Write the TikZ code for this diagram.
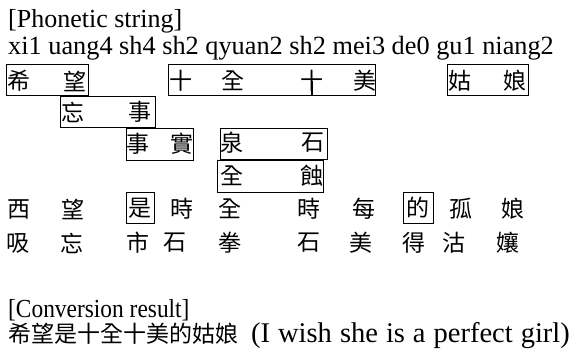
\documentclass[tikz,border=0pt]{standalone}
\usepackage{fontspec}
\setmainfont{Liberation Serif}
\newfontfamily\cjk{Noto Sans CJK TC}
\begin{document}
\begin{tikzpicture}[x=1pt,y=-1pt]
\tikzset{
  lat/.style={anchor=base west, inner sep=0pt, font=\fontsize{26}{26}\selectfont},
  hz/.style={inner sep=0pt, font=\cjk\fontsize{23}{23}\selectfont},
  bx/.style={draw, line width=1.3pt, inner sep=0pt, anchor=north west},
}
\fill[white] (0,0) rectangle (576,352);
\useasboundingbox (0,0) rectangle (576,352);
% headings
\node[lat] (title) at (8,28) {[Phonetic string]};
\node[lat, font=\fontsize{26.3}{26.3}\selectfont] (phon) at (8,55) {xi1 uang4 sh4 sh2 qyuan2 sh2 mei3 de0 gu1 niang2};
% boxes
\node[bx, minimum width=82pt, minimum height=31pt] (b1) at (6,64) {};
\node[bx, minimum width=207pt, minimum height=31pt] (b2) at (168,64) {};
\node[bx, minimum width=81pt, minimum height=31pt] (b3) at (447,64) {};
\node[bx, minimum width=95pt, minimum height=31pt] (b4) at (60,96) {};
\node[bx, minimum width=67pt, minimum height=32pt] (b5) at (126,128) {};
\node[bx, minimum width=107pt, minimum height=31pt] (b6) at (220,128) {};
\node[bx, minimum width=106pt, minimum height=32pt] (b7) at (217,160) {};
\node[bx, minimum width=28pt, minimum height=31pt] (b8) at (126,192) {};
\node[bx, minimum width=30pt, minimum height=31pt] (b9) at (403,192) {};
% row 1
\node[hz] (r1a) at (19,81) {希};
\node[hz] (r1b) at (75,81) {望};
\node[hz] (r1c) at (181,81) {十};
\node[hz] (r1d) at (233,81) {全};
\node[hz] (r1e) at (312,81) {十};
\node[hz] (r1f) at (365,81) {美};
\node[hz] (r1g) at (460,81) {姑};
\node[hz] (r1h) at (515,81) {娘};
\draw[line width=1.3pt] (r1e.center) -- (r1e.center |- b2.south);
% row 2
\node[hz] (r2a) at (73,112) {忘};
\node[hz] (r2b) at (140,112) {事};
% row 3
\node[hz] (r3a) at (138,144) {事};
\node[hz] (r3b) at (182,144) {實};
\node[hz] (r3c) at (232,143) {泉};
\node[hz] (r3d) at (313,143) {石};
% row 4
\node[hz] (r4a) at (232,176) {全};
\node[hz] (r4b) at (312,176) {蝕};
% row 5
\node[hz] (r5a) at (19,209) {西};
\node[hz] (r5b) at (73,209) {望};
\node[hz] (r5c) at (140,208) {是};
\node[hz] (r5d) at (182,209) {時};
\node[hz] (r5e) at (230,209) {全};
\node[hz] (r5f) at (309,209) {時};
\node[hz] (r5g) at (364,209) {每};
\node[hz] (r5h) at (418,208) {的};
\node[hz] (r5i) at (461,209) {孤};
\node[hz] (r5j) at (513,209) {娘};
% row 6
\node[hz] (r6a) at (18,243) {吸};
\node[hz] (r6b) at (72,243) {忘};
\node[hz] (r6c) at (138,243) {市};
\node[hz] (r6d) at (175,243) {石};
\node[hz] (r6e) at (230,243) {拳};
\node[hz] (r6f) at (309,243) {石};
\node[hz] (r6g) at (361,243) {美};
\node[hz] (r6h) at (414,243) {得};
\node[hz] (r6i) at (454,243) {沽};
\node[hz] (r6j) at (508,243) {孃};
% result
\node[lat] (rtitle) at (8,318) {\scalebox{0.9}[1]{[Conversion result]}};
\node[lat, font=\fontsize{28.5}{28.5}\selectfont] (result) at (8,343) {{\cjk\fontsize{23}{23}\selectfont 希望是十全十美的姑娘}\hspace{13pt}{\spaceskip=8pt\relax (I wish she is a perfect girl)}};
\end{tikzpicture}
\end{document}
